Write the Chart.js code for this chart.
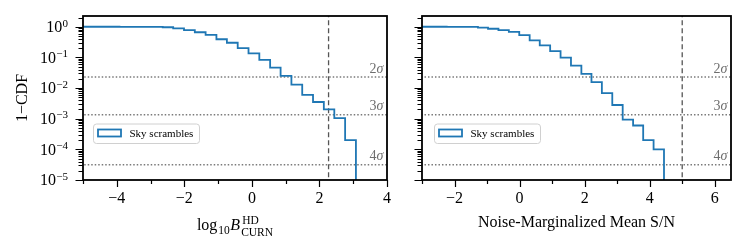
<!DOCTYPE html>
<html><head><meta charset="utf-8">
<script src="https://cdn.jsdelivr.net/npm/chart.js@4.4.1/dist/chart.umd.min.js"></script>
<style>
html,body{margin:0;padding:0;background:#fff;overflow:hidden}
#wrap{position:relative;width:748px;height:252px;background:#fff}
canvas{position:absolute;top:0}
#c1{left:0}
#c2{left:400px}
</style></head><body>
<div id="wrap"><canvas id="c1" width="400" height="252"></canvas><canvas id="c2" width="348" height="252"></canvas></div>
<script>
const SERIF = '"Liberation Serif", "DejaVu Serif", serif';

// ---- Left panel: log10 Bayes factor (HD vs CURN), sky scrambles ----
const bfBinEdges = [-5.19, -4.87, -4.55, -4.23, -3.92, -3.60, -3.28, -2.96, -2.64, -2.33,
  -2.01, -1.69, -1.37, -1.05, -0.74, -0.42, -0.10, 0.22, 0.54, 0.85,
  1.17, 1.49, 1.81, 2.13, 2.44, 2.76, 3.08];
const bfSurvival = [1.0, 1.0, 0.999, 0.998, 0.996, 0.993, 0.988, 0.99, 0.96, 0.88,
  0.78, 0.66, 0.54, 0.39, 0.30, 0.20, 0.135, 0.083, 0.046, 0.025,
  0.013, 0.006, 0.0035, 0.002, 0.00104, 0.0002];
const bfObserved = 2.27;
const bfXTicks = [-5, -4, -3, -2, -1, 0, 1, 2, 3, 4];

// ---- Right panel: noise-marginalized mean S/N, sky scrambles ----
const snBinEdges = [-3.19, -2.87, -2.56, -2.24, -1.92, -1.60, -1.28, -0.97, -0.65, -0.33,
  -0.01, 0.31, 0.62, 0.94, 1.26, 1.58, 1.90, 2.21, 2.53, 2.85,
  3.17, 3.49, 3.80, 4.12, 4.44];
const snSurvival = [1.0, 0.999, 0.998, 0.996, 0.99, 0.985, 0.94, 0.86, 0.78, 0.68,
  0.53, 0.36, 0.245, 0.16, 0.098, 0.054, 0.029, 0.0155, 0.0068, 0.0028,
  0.00093, 0.0006, 0.0002, 0.0001];
const snObserved = 5.0;
const snXTicks = [-3, -2, -1, 0, 1, 2, 3, 4, 5, 6];

// ---- shared ----
const sigmaLevels = [0.0228, 0.00135, 3.17e-5];
const sigmaNames = ['2', '3', '4'];
const yDecades = [-5, -4, -3, -2, -1, 0];
const yMinorMultipliers = [2, 3, 4, 5, 6, 7, 8, 9];
const seriesLabel = 'Sky scrambles';

const Y_MIN = 1e-5, Y_MAX = Math.pow(10, 0.35), FLOOR = 1e-7;

function stepPoints(edges, vals) {
  const pts = vals.map((v, i) => ({x: edges[i], y: v}));
  pts.push({x: edges[edges.length - 1], y: FLOOR});
  return pts;
}
function yTickValues() {
  const out = [];
  yDecades.forEach(d => {
    out.push({value: Math.pow(10, d)});
    yMinorMultipliers.forEach(m => { const v = m * Math.pow(10, d); if (v <= Y_MAX) out.push({value: v}); });
  });
  return out;
}
function isDecade(v) { const l = Math.log10(v); return Math.abs(l - Math.round(l)) < 1e-9; }
function minusify(n) { return n < 0 ? '\u2212' + (-n) : String(n); }

const decorPlugin = {
  id: 'decor',
  afterDatasetsDraw(chart, args, o) {
    const ctx = chart.ctx;
    const {left, right, top, bottom} = chart.chartArea;
    const xs = chart.scales.x, ys = chart.scales.y;
    ctx.save();
    // sigma labels
    ctx.fillStyle = '#6e6e6e';
    ctx.textBaseline = 'alphabetic';
    ctx.textAlign = 'right';
    sigmaLevels.forEach((s, i) => {
      const py = ys.getPixelForValue(s);
      ctx.font = 'italic 14px ' + SERIF;
      const ws = ctx.measureText('\u03c3').width;
      ctx.fillText('\u03c3', right - 3.5, py - 4.5);
      ctx.font = '14px ' + SERIF;
      ctx.fillText(sigmaNames[i], right - 3.5 - ws, py - 4.5);
    });
    // legend
    const bx = left + o.legendDx, by = top + 108, bw = 106, bh = 19.5;
    ctx.beginPath();
    if (ctx.roundRect) ctx.roundRect(bx, by, bw, bh, 3); else ctx.rect(bx, by, bw, bh);
    ctx.fillStyle = 'rgba(255,255,255,0.85)';
    ctx.fill();
    ctx.strokeStyle = '#d0d0d0';
    ctx.lineWidth = 1;
    ctx.stroke();
    const ds = chart.data.datasets[0];
    ctx.strokeStyle = ds.borderColor;
    ctx.lineWidth = 1.8;
    ctx.strokeRect(bx + 4.5, by + 5.5, 23, 7);
    ctx.fillStyle = '#000';
    ctx.font = '11px ' + SERIF;
    ctx.textAlign = 'left';
    ctx.textBaseline = 'middle';
    ctx.fillText(ds.label, bx + 36, by + bh / 2 + 0.5);
    // ticks
    ctx.strokeStyle = '#000';
    ctx.lineWidth = 1.2;
    ctx.beginPath();
    xs.ticks.forEach(t => {
      const px = Math.round(xs.getPixelForValue(t.value)) + 0.5;
      const len = (t.value % 2 === 0) ? 7 : 4;
      ctx.moveTo(px, bottom); ctx.lineTo(px, bottom + len);
    });
    ys.ticks.forEach(t => {
      const py = Math.round(ys.getPixelForValue(t.value)) + 0.5;
      const len = isDecade(t.value) ? 7.5 : 4.5;
      ctx.moveTo(left, py); ctx.lineTo(left - len, py);
    });
    ctx.stroke();
    // frame
    ctx.lineWidth = 1.8;
    ctx.strokeRect(left, top, right - left, bottom - top);
    // y tick labels
    if (o.yLabels) {
      ctx.fillStyle = '#000';
      ctx.textAlign = 'right';
      ctx.textBaseline = 'alphabetic';
      yDecades.forEach(d => {
        const py = ys.getPixelForValue(Math.pow(10, d));
        const exp = minusify(d);
        ctx.font = '11px ' + SERIF;
        const we = ctx.measureText(exp).width;
        const xr = left - 15;
        ctx.fillText(exp, xr, py - 0.2);
        ctx.font = '16px ' + SERIF;
        ctx.fillText('10', xr - we - 0.3, py + 5.4);
      });
    }
    // composite x title for left panel
    if (o.bfTitle) {
      const segs = [
        {t: 'log', f: '16px ', dy: 0},
        {t: '10', f: '11.5px ', dy: 3.5, gap: 1},
        {t: 'B', f: 'italic 16px ', dy: 0, gap: 0.5}
      ];
      ctx.textAlign = 'left';
      ctx.textBaseline = 'alphabetic';
      ctx.fillStyle = '#000';
      let widths = segs.map(s => { ctx.font = s.f + SERIF; return ctx.measureText(s.t).width; });
      ctx.font = '11.5px ' + SERIF;
      const wSup = ctx.measureText('HD').width, wSub = ctx.measureText('CURN').width;
      const total = widths.reduce((a, b) => a + b, 0) + 1.5 + 1 + Math.max(wSup + 1, wSub);
      let x = (left + right) / 2 - total / 2;
      const base = 230;
      segs.forEach((s, i) => {
        x += (s.gap || 0);
        ctx.font = s.f + SERIF;
        ctx.fillText(s.t, x, base + s.dy);
        x += widths[i];
      });
      x += 1;
      ctx.font = '11.5px ' + SERIF;
      ctx.fillText('HD', x + 1, base - 6.5);
      ctx.fillText('CURN', x, base + 5.5);
    }
    ctx.restore();
  }
};

function makeChart(id, p) {
  const datasets = [
    {label: seriesLabel, data: stepPoints(p.edges, p.vals), stepped: 'before',
     borderColor: '#1f77b4', borderWidth: 1.8, pointRadius: 0, fill: false},
    {label: 'observed', data: [{x: p.obs, y: FLOOR}, {x: p.obs, y: 100}],
     borderColor: '#555555', borderWidth: 1.3, borderDash: [5, 3], pointRadius: 0}
  ];
  sigmaLevels.forEach(s => datasets.push({
    label: 'sigma', data: [{x: p.xMin - 1, y: s}, {x: p.xMax + 1, y: s}],
    borderColor: '#7a7a7a', borderWidth: 1.5, borderDash: [1.5, 2], pointRadius: 0
  }));
  return new Chart(document.getElementById(id), {
    type: 'line',
    data: {datasets},
    options: {
      responsive: false, animation: false, devicePixelRatio: 1,
      layout: {padding: p.padding},
      plugins: {legend: {display: false}, tooltip: {enabled: false},
        decor: {legendDx: p.legendDx, yLabels: p.yLabels, bfTitle: p.bfTitle}},
      scales: {
        x: {type: 'linear', min: p.xMin, max: p.xMax,
          afterBuildTicks: s => { s.ticks = p.xTicks.map(v => ({value: v})); },
          afterFit: s => { s.height = 72; },
          grid: {display: false, drawTicks: false}, border: {display: false},
          ticks: {color: '#000', font: {family: SERIF, size: 16}, padding: 9, maxRotation: 0, autoSkip: false,
            callback: v => (v % 2 === 0 ? minusify(v) : '')},
          title: {display: !!p.xTitle, text: p.xTitle || '', color: '#000',
            font: {family: SERIF, size: 16}, padding: {top: 0, bottom: 20}}
        },
        y: {type: 'logarithmic', min: Y_MIN, max: Y_MAX,
          afterBuildTicks: s => { s.ticks = yTickValues(); },
          afterFit: s => { s.width = p.yWidth; },
          grid: {display: false, drawTicks: false}, border: {display: false},
          ticks: {display: false},
          title: {display: !!p.yTitle, text: p.yTitle || '', color: '#000',
            font: {family: SERIF, size: 16}, padding: {top: 13.5, bottom: 0}}
        }
      }
    },
    plugins: [decorPlugin]
  });
}

makeChart('c1', {edges: bfBinEdges, vals: bfSurvival, obs: bfObserved, xMin: -5, xMax: 4, xTicks: bfXTicks,
  padding: {top: 16, right: 9, bottom: 0, left: 0}, yWidth: 83, legendDx: 10.5, yLabels: true,
  bfTitle: true, xTitle: null, yTitle: '1\u2212CDF'});
makeChart('c2', {edges: snBinEdges, vals: snSurvival, obs: snObserved, xMin: -3, xMax: 6.5, xTicks: snXTicks,
  padding: {top: 16, right: 17, bottom: 0, left: 0}, yWidth: 22, legendDx: 12.5, yLabels: false,
  bfTitle: false, xTitle: 'Noise-Marginalized Mean S/N', yTitle: null});
</script>
</body></html>
